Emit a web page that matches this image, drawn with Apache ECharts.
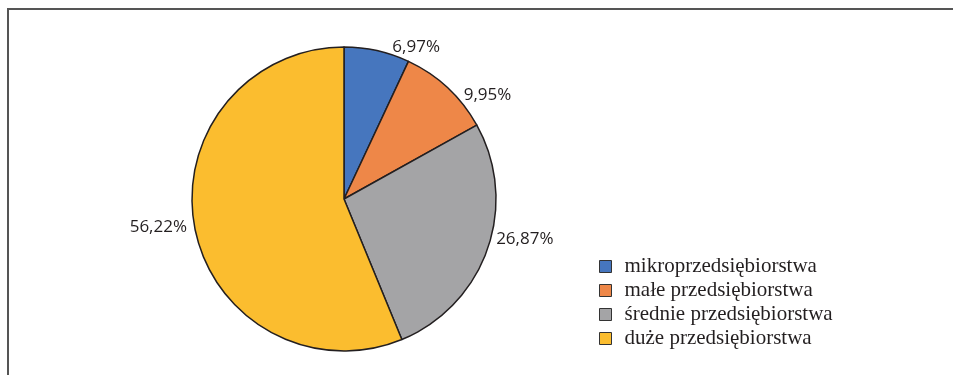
<!DOCTYPE html>
<html>
<head>
<meta charset="utf-8">
<script src="https://cdn.jsdelivr.net/npm/echarts@6/dist/echarts.min.js"></script>
<style>
  html, body { margin: 0; padding: 0; background: #fff; }
  #chart { width: 953px; height: 375px; }
</style>
</head>
<body>
<div id="chart"></div>
<script>
// Enterprise size classes and their shares (%)
const categories = ['mikroprzedsiębiorstwa', 'małe przedsiębiorstwa', 'średnie przedsiębiorstwa', 'duże przedsiębiorstwa'];
const shares = [6.97, 9.95, 26.87, 56.22];
const colors = ['#4676BE', '#EE8748', '#A4A4A6', '#FBBD2F'];

// small "best fit" nudges for the outside value labels, [dx, dy] per slice
const labelNudge = [[5, 2], [3, 12], [-6, -12], [7, -2]];

const fmt = v => v.toFixed(2).replace('.', ',') + '%';

const chart = echarts.init(document.getElementById('chart'), null, { renderer: 'canvas' });

chart.setOption({
  animation: false,
  color: colors,
  graphic: [
    {
      type: 'polyline',
      shape: { points: [[8, 375], [8, 9], [953, 9]] },
      style: { stroke: '#555', lineWidth: 2, fill: null }
    }
  ],
  legend: {
    orient: 'vertical',
    left: 594,
    top: 251,
    itemWidth: 12,
    itemHeight: 12,
    itemGap: 3,
    icon: 'rect',
    itemStyle: { borderColor: '#333', borderWidth: 1 },
    textStyle: {
      fontFamily: 'Liberation Serif',
      fontSize: 21,
      lineHeight: 21,
      color: '#231F20',
      padding: [0, 0, 0, 8]
    },
    data: categories
  },
  series: [
    {
      type: 'pie',
      center: [344, 199],
      radius: 152,
      startAngle: 90,
      clockwise: true,
      avoidLabelOverlap: false,
      itemStyle: { borderColor: '#231F20', borderWidth: 1.5 },
      label: {
        show: true,
        position: 'outside',
        fontFamily: 'Open Sans',
        fontSize: 17,
        color: '#231F20',
        formatter: p => fmt(p.value)
      },
      labelLine: { show: false, length: 6, length2: 4 },
      labelLayout: p => ({ dx: labelNudge[p.dataIndex][0], dy: labelNudge[p.dataIndex][1] }),
      emphasis: { disabled: true },
      data: categories.map((name, i) => ({ name, value: shares[i] }))
    }
  ]
});
</script>
</body>
</html>
